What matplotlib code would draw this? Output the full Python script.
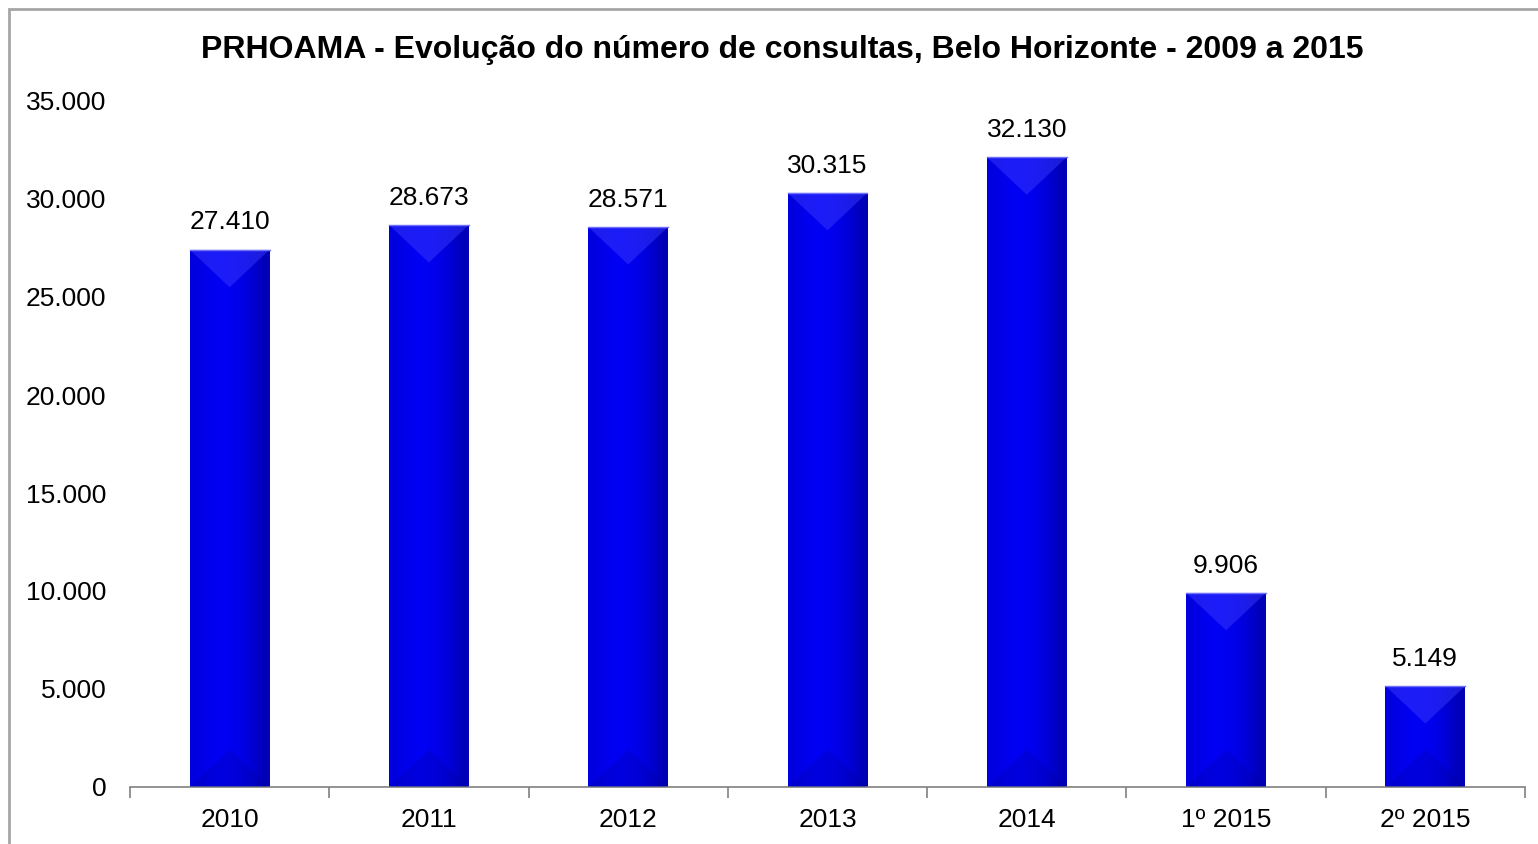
import matplotlib.pyplot as plt
import matplotlib.patches as mpatches
from matplotlib.colors import LinearSegmentedColormap
from matplotlib.ticker import FuncFormatter
import numpy as np

# data
categories = ['2010', '2011', '2012', '2013', '2014', '1º 2015', '2º 2015']
consultas = [27410, 28673, 28571, 30315, 32130, 9906, 5149]
title = 'PRHOAMA - Evolução do número de consultas, Belo Horizonte - 2009 a 2015'

plt.rcParams['font.family'] = ['Liberation Sans', 'DejaVu Sans']

fig = plt.figure(figsize=(15.38, 8.44), dpi=100)
ax = fig.add_axes([130 / 1538, 1 - 787 / 844, (1525 - 130) / 1538, (787 - 101) / 844])

x = np.arange(len(categories))
width = 0.4
bars = ax.bar(x, consultas, width=width, color='#0000e6', edgecolor='none', zorder=2)

# horizontal gradient inside each bar, plus the bevel triangles
grad = np.array([[0.8, 0.92, 1.0, 0.97, 0.88, 0.72, 0.45]])
cmap = LinearSegmentedColormap.from_list('bl', ['#000080', '#0000f5'])
px_per_x = (1525 - 130) / len(categories)
px_per_y = (787 - 101) / 35000
for b in bars:
    x0, w, h = b.get_x(), b.get_width(), b.get_height()
    im = ax.imshow(grad, cmap=cmap, vmin=0, vmax=1, aspect='auto',
                   extent=(x0, x0 + w, 0, h), interpolation='bicubic', zorder=2)
    im.set_clip_path(b)
    d = min(w * px_per_x * 0.47 / px_per_y, h / 2)
    top = mpatches.Polygon([[x0, h], [x0 + w, h], [x0 + w / 2, h - d]],
                           closed=True, color='#4040ff', alpha=0.45, lw=0, zorder=3)
    bot = mpatches.Polygon([[x0, 0], [x0 + w, 0], [x0 + w / 2, d]],
                           closed=True, color='#0000a0', alpha=0.25, lw=0, zorder=3)
    ax.add_patch(top)
    ax.add_patch(bot)
    ax.plot([x0, x0 + w], [h, h], color='#7070ff', lw=1, zorder=4)

ax.set_xlim(-0.5, len(categories) - 0.5)
ax.set_ylim(0, 35000)
ax.set_yticks(np.arange(0, 35001, 5000))
ax.yaxis.set_major_formatter(FuncFormatter(lambda v, p: f'{int(v):,}'.replace(',', '.')))
ax.tick_params(axis='y', length=0, labelsize=19, pad=17)

ax.set_xticks(x)
ax.set_xticklabels(categories)
ax.set_xticks(np.arange(-0.5, len(categories)), minor=True)
ax.tick_params(axis='x', which='major', length=0, labelsize=19, pad=15)
ax.tick_params(axis='x', which='minor', length=8, color='#808080', width=1.2)

for s in ['top', 'right', 'left']:
    ax.spines[s].set_visible(False)
ax.spines['bottom'].set_color('#808080')
ax.spines['bottom'].set_linewidth(1.2)

for xi, v in zip(x, consultas):
    ax.annotate(f'{v:,}'.replace(',', '.'), (xi, v), xytext=(0, 11),
                textcoords='offset points', ha='center', va='bottom', fontsize=19)

fig.text(782 / 1538, 1 - 50 / 844, title, ha='center', va='center',
         fontsize=23, fontweight='bold')

# outer chart border
fig.patches.append(mpatches.Rectangle((9 / 1538, -0.1), 1.2, 1 - 9 / 844 + 0.1,
                                      transform=fig.transFigure, fill=False,
                                      edgecolor='#a6a6a6', lw=2))

fig.savefig('out.png', dpi=100)
